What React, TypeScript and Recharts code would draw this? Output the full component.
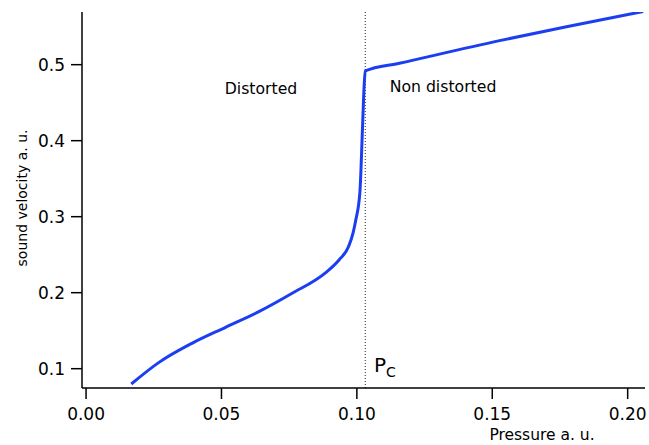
import { LineChart, Line, XAxis, YAxis, ReferenceLine } from 'recharts';

// pressure (a. u.) and sound velocity (a. u.)
const pressure = [
    0.0167, 0.0268, 0.0391, 0.0515, 0.0638, 0.0761, 0.0885, 0.0934, 0.0969, 0.0986,
    0.0996, 0.1011, 0.1021, 0.1027, 0.1031, 0.1157, 0.1527, 0.1774, 0.2057,
];
const velocity = [
    0.0799, 0.1080, 0.1334, 0.1545, 0.1750, 0.1992, 0.2263, 0.2430, 0.2605, 0.2786,
    0.2957, 0.3312, 0.4184, 0.4733, 0.4917, 0.5018, 0.5316, 0.5500, 0.5700,
];

const xTicks = [0, 0.05, 0.1, 0.15, 0.2];
const yTicks = [0.1, 0.2, 0.3, 0.4, 0.5];
const criticalPressure = 0.1031;

const FONT = 'DejaVu Sans';
const BLUE = '#1c3ef2';

const data = pressure.map((p, i) => ({ p, v: velocity[i] }));

export default function App() {
    return (
        <div style={{ position: 'absolute', left: 0, top: 0, width: 649, height: 445, background: '#fff' }}>
            <LineChart width={649} height={445} data={data} margin={{ top: 12, right: 4, bottom: 0, left: 0 }}>
                <XAxis
                    type="number"
                    dataKey="p"
                    domain={[-0.0015, 0.2064]}
                    ticks={xTicks}
                    tickFormatter={(t: number) => t.toFixed(2)}
                    height={57}
                    tickSize={11}
                    tickMargin={9}
                    allowDataOverflow
                    stroke="#000"
                    strokeWidth={1.5}
                    tick={{ fill: '#000', fontSize: 17, fontFamily: FONT }}
                />
                <YAxis
                    type="number"
                    dataKey="v"
                    domain={[0.0746, 0.5693]}
                    ticks={yTicks}
                    tickFormatter={(t: number) => t.toFixed(1)}
                    width={82}
                    tickSize={11}
                    tickMargin={6}
                    allowDataOverflow
                    stroke="#000"
                    strokeWidth={1.5}
                    tick={{ fill: '#000', fontSize: 17, fontFamily: FONT }}
                />
                <ReferenceLine x={criticalPressure} stroke="#222" strokeWidth={1} strokeDasharray="1 2" />
                <Line
                    type="monotone"
                    dataKey="v"
                    stroke={BLUE}
                    strokeWidth={3}
                    dot={false}
                    isAnimationActive={false}
                />
            </LineChart>
            <svg width={649} height={445} style={{ position: 'absolute', left: 0, top: 0, pointerEvents: 'none' }}>
                <g fontFamily={FONT} fill="#000">
                    <text transform="translate(22,198) rotate(-90)" textAnchor="middle" dominantBaseline="central" fontSize={14}>
                        sound velocity a. u.
                    </text>
                    <text x={542} y={435} textAnchor="middle" dominantBaseline="central" fontSize={15.5}>
                        Pressure a. u.
                    </text>
                    <text x={261} y={88} textAnchor="middle" dominantBaseline="central" fontSize={15.7}>
                        Distorted
                    </text>
                    <text x={443} y={86} textAnchor="middle" dominantBaseline="central" fontSize={15.7}>
                        Non distorted
                    </text>
                    <text x={374} y={372} fontSize={20}>
                        P<tspan fontSize={14} dy={5}>C</tspan>
                    </text>
                </g>
            </svg>
        </div>
    );
}
